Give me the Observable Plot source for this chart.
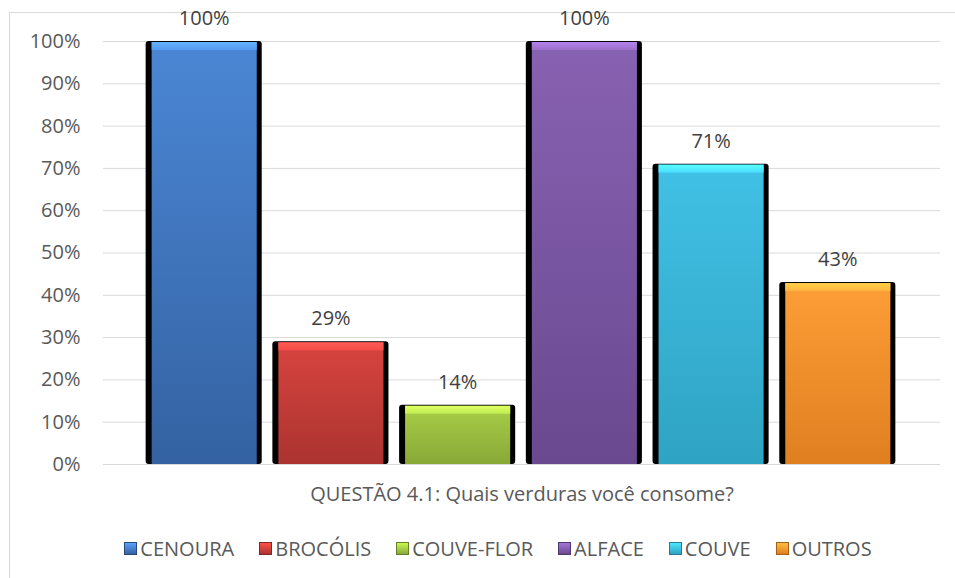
<!DOCTYPE html>
<html>
<head>
<meta charset="utf-8">
<script src="https://cdn.jsdelivr.net/npm/d3@7"></script>
<script src="https://cdn.jsdelivr.net/npm/@observablehq/plot@0.6"></script>
<style>
  html, body { margin: 0; padding: 0; background: #fff; overflow: hidden; }
  body { width: 955px; height: 578px; position: relative; font-family: "Open Sans", sans-serif; }
  #frame { position: absolute; left: 9px; top: 12px; width: 1000px; height: 600px; border: 1px solid #d9d9d9; box-sizing: border-box; }
  #chart { position: absolute; left: 0; top: 0; }
  #legend { position: absolute; left: 0; top: 535px; width: 996px; height: 26px; display: flex; justify-content: center; align-items: center; gap: 25px; font-size: 20px; color: #595959; }
  .item { display: flex; align-items: center; white-space: nowrap; }
  .sw { width: 13px; height: 13px; box-sizing: border-box; margin-right: 3px; border: 1px solid; }
</style>
</head>
<body>
<div id="frame"></div>
<svg width="0" height="0" style="position:absolute">
  <defs id="gdefs"></defs>
</svg>
<div id="chart"></div>
<div id="legend"></div>
<script>
const categories = ["CENOURA", "BROCÓLIS", "COUVE-FLOR", "ALFACE", "COUVE", "OUTROS"];
const values = [100, 29, 14, 100, 71, 43];
const yTicks = [0, 10, 20, 30, 40, 50, 60, 70, 80, 90, 100];
const topColors = ["#4b87d5", "#d8443f", "#a8cf48", "#8862b2", "#41c1e6", "#fe9e37"];
const bottomColors = ["#3462a2", "#ab3330", "#89a837", "#6a4990", "#2fa3c3", "#df7f20"];
const xTitle = "QUESTÃO 4.1: Quais verduras você consome?";

const data = categories.map((c, i) => ({category: c, value: values[i]}));

// gradients
const defs = d3.select("#gdefs");
categories.forEach((c, i) => {
  const g = defs.append("linearGradient").attr("id", "g" + i).attr("x1", 0).attr("y1", 0).attr("x2", 0).attr("y2", 1);
  g.append("stop").attr("offset", "0%").attr("stop-color", topColors[i]);
  g.append("stop").attr("offset", "100%").attr("stop-color", bottomColors[i]);
  const h = defs.append("linearGradient").attr("id", "h" + i).attr("x1", 0).attr("y1", 0).attr("x2", 0).attr("y2", 1);
  h.append("stop").attr("offset", "0%").attr("stop-color", d3.color(topColors[i]).brighter(0.8).formatHex());
  h.append("stop").attr("offset", "100%").attr("stop-color", d3.color(topColors[i]).brighter(0.35).formatHex());
});

const plot = Plot.plot({
  width: 955,
  height: 515,
  marginLeft: 103,
  marginRight: 15,
  marginTop: 41,
  marginBottom: 51,
  style: {fontFamily: "'Open Sans', sans-serif", fontSize: "20px", color: "#595959", background: "transparent", overflow: "visible"},
  x: {domain: categories, padding: 0.084, insetLeft: 32, insetRight: 34, round: false, axis: null},
  y: {domain: [0, 100], ticks: yTicks, tickFormat: d => d + "%", tickSize: 0, tickPadding: 23, label: null},
  color: {domain: categories, range: categories.map((c, i) => `url(#g${i})`)},
  marks: [
    Plot.ruleY(yTicks, {stroke: "#d9d9d9", strokeWidth: 1}),
    Plot.barY(data, {x: "category", y: "value", fill: "#000", rx: 3}),
    Plot.barY(data, {x: "category", y: "value", fill: "category", insetLeft: 6, insetRight: 5, insetTop: 1}),
    Plot.barY(data, {x: "category", y1: "value", y2: "value", fill: "category", insetLeft: 6, insetRight: 5, insetTop: 1, insetBottom: -9}),
    Plot.text(data, {x: "category", y: "value", text: d => d.value + "%", dy: -23, fill: "#404040", fontSize: 20}),
    Plot.text([xTitle], {frameAnchor: "bottom", dy: 36, text: d => d, fill: "#595959", fontSize: 20})
  ]
});
// apply highlight gradients to the bevel bars
const groups = plot.querySelectorAll("g[aria-label='bar']");
if (groups.length >= 3) {
  groups[2].querySelectorAll("rect").forEach((r, i) => {
    r.setAttribute("fill", `url(#h${i})`);
  });
}
document.getElementById("chart").appendChild(plot);

// legend
const legend = d3.select("#legend");
categories.forEach((c, i) => {
  const it = legend.append("div").attr("class", "item");
  it.append("div").attr("class", "sw")
    .style("background", `linear-gradient(${d3.color(topColors[i]).brighter(0.5).formatHex()}, ${bottomColors[i]})`)
    .style("border-color", d3.color(bottomColors[i]).darker(0.8).formatHex());
  it.append("span").text(c);
});
</script>
</body>
</html>
